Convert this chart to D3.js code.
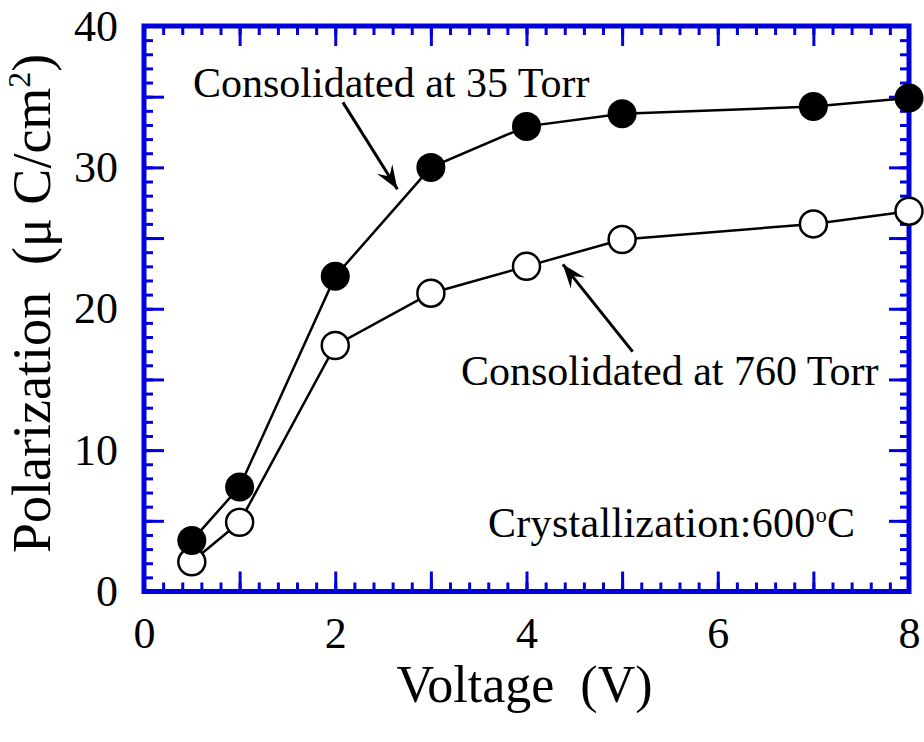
<!DOCTYPE html>
<html>
<head>
<meta charset="utf-8">
<script src="https://cdn.jsdelivr.net/npm/d3@7"></script>
<style>
	body { margin: 0; background: #fff; }
	text { font-family: "Liberation Serif", "Times New Roman", serif; fill: #000; }
</style>
</head>
<body>
<div id="chart"></div>
<script>
// data
var voltage = [0.5, 1, 2, 3, 4, 5, 7, 8];
var torr35 = [3.6, 7.4, 22.3, 30.0, 32.9, 33.8, 34.3, 34.9];
var torr760 = [2.1, 4.9, 17.4, 21.1, 23.0, 24.9, 26.0, 26.9];
var xLabels = [0, 2, 4, 6, 8];
var yLabels = [0, 10, 20, 30, 40];

var width = 924,
	height = 742;
var margin = {
	top: 26,
	right: 15,
	bottom: 150.5,
	left: 144
};
var blue = "#0000dd";

var svg = d3.select("#chart")
	.append("svg")
	.attr("width", width)
	.attr("height", height);

var x = d3.scaleLinear()
	.domain([0, 8])
	.range([margin.left, width - margin.right]);
var y = d3.scaleLinear()
	.domain([0, 40])
	.range([height - margin.bottom, margin.top]);

var x0 = x.range()[0], x1 = x.range()[1];
var y0 = y.range()[0], y1 = y.range()[1];

var xMajor = d3.range(0, 8.01, 1);
var xMinor = d3.range(0, 8.01, 0.2);
var yMajor = d3.range(0, 40.1, 5);
var yMinor = d3.range(0, 40.1, 1);

function styleAxis(g) {
	g.select(".domain").remove();
	g.selectAll(".tick line").attr("stroke", blue).attr("stroke-width", 3);
	g.selectAll(".tick text").style("font-size", "44px").attr("fill", "#000");
}

var fmtX = function(d) { return xLabels.indexOf(d) >= 0 ? d : ""; };
var fmtY = function(d) { return yLabels.indexOf(d) >= 0 ? d : ""; };

// bottom
svg.append("g").attr("transform", "translate(0," + y0 + ")")
	.call(d3.axisBottom(x).tickValues(xMinor).tickSize(-9).tickFormat(""))
	.call(styleAxis);
svg.append("g").attr("transform", "translate(0," + y0 + ")")
	.call(d3.axisBottom(x).tickValues(xMajor).tickSize(-20).tickPadding(25).tickFormat(fmtX))
	.call(styleAxis);
// top
svg.append("g").attr("transform", "translate(0," + y1 + ")")
	.call(d3.axisTop(x).tickValues(xMinor).tickSize(-9).tickFormat(""))
	.call(styleAxis);
svg.append("g").attr("transform", "translate(0," + y1 + ")")
	.call(d3.axisTop(x).tickValues(xMajor).tickSize(-20).tickFormat(""))
	.call(styleAxis);
// left
svg.append("g").attr("transform", "translate(" + x0 + ",0)")
	.call(d3.axisLeft(y).tickValues(yMinor).tickSize(-9).tickFormat(""))
	.call(styleAxis);
svg.append("g").attr("transform", "translate(" + x0 + ",0)")
	.call(d3.axisLeft(y).tickValues(yMajor).tickSize(-20).tickPadding(26).tickFormat(fmtY))
	.call(styleAxis);
// right
svg.append("g").attr("transform", "translate(" + x1 + ",0)")
	.call(d3.axisRight(y).tickValues(yMinor).tickSize(-9).tickFormat(""))
	.call(styleAxis);
svg.append("g").attr("transform", "translate(" + x1 + ",0)")
	.call(d3.axisRight(y).tickValues(yMajor).tickSize(-20).tickFormat(""))
	.call(styleAxis);

// frame
svg.append("rect")
	.attr("x", x0)
	.attr("y", y1)
	.attr("width", x1 - x0)
	.attr("height", y0 - y1)
	.attr("fill", "none")
	.attr("stroke", blue)
	.attr("stroke-width", 5);

// axis titles
svg.append("text")
	.attr("x", (x0 + x1) / 2 - 2)
	.attr("y", 702)
	.attr("text-anchor", "middle")
	.style("font-size", "52px")
	.attr("xml:space", "preserve")
	.text("Voltage  (V)");

var yt = svg.append("text")
	.attr("transform", "translate(50,553) rotate(-90)")
	.attr("text-anchor", "start")
	.style("font-size", "54px")
	.attr("xml:space", "preserve");
yt.append("tspan").text("Polarization  (\u03bc C/cm");
yt.append("tspan").attr("dy", -20).style("font-size", "32px").text("2");
yt.append("tspan").attr("dy", 20).text(")");

// lines and points
var rows35 = voltage.map(function(v, i) { return [v, torr35[i]]; });
var rows760 = voltage.map(function(v, i) { return [v, torr760[i]]; });

var line = d3.line()
	.x(function(d) { return x(d[0]); })
	.y(function(d) { return y(d[1]); });

[rows35, rows760].forEach(function(rows) {
	svg.append("path")
		.datum(rows)
		.attr("d", line)
		.attr("fill", "none")
		.attr("stroke", "#000")
		.attr("stroke-width", 2.5);
});

svg.append("g")
	.selectAll("circle")
	.data(rows760)
	.enter()
	.append("circle")
	.attr("cx", function(d) { return x(d[0]); })
	.attr("cy", function(d) { return y(d[1]); })
	.attr("r", 13.5)
	.attr("fill", "#fff")
	.attr("stroke", "#000")
	.attr("stroke-width", 2.5);

svg.append("g")
	.selectAll("circle")
	.data(rows35)
	.enter()
	.append("circle")
	.attr("cx", function(d) { return x(d[0]); })
	.attr("cy", function(d) { return y(d[1]); })
	.attr("r", 14.5)
	.attr("fill", "#000");

// annotations
svg.append("defs").append("marker")
	.attr("id", "head")
	.attr("viewBox", "-26 -10 28 20")
	.attr("refX", 0)
	.attr("refY", 0)
	.attr("markerWidth", 28)
	.attr("markerHeight", 20)
	.attr("markerUnits", "userSpaceOnUse")
	.attr("orient", "auto")
	.append("path")
	.attr("d", "M0,0 L-24,-9 L-15,0 L-24,9 Z")
	.attr("fill", "#000");

var arrows = [
	[[2.08, 34.6], [2.65, 28.45]],
	[[5.11, 16.97], [4.38, 23.14]]
];
arrows.forEach(function(a) {
	svg.append("line")
		.attr("x1", x(a[0][0]))
		.attr("y1", y(a[0][1]))
		.attr("x2", x(a[1][0]))
		.attr("y2", y(a[1][1]))
		.attr("stroke", "#000")
		.attr("stroke-width", 3)
		.attr("marker-end", "url(#head)");
});

svg.append("text")
	.attr("x", 193)
	.attr("y", 97)
	.style("font-size", "42px")
	.text("Consolidated at 35 Torr");

svg.append("text")
	.attr("x", 461)
	.attr("y", 385)
	.style("font-size", "42px")
	.text("Consolidated at 760 Torr");

var ct = svg.append("text")
	.attr("x", 488)
	.attr("y", 537)
	.style("font-size", "42px")
	.style("letter-spacing", "0.3px");
ct.append("tspan").text("Crystallization:600");
ct.append("tspan").attr("dy", -15).style("font-size", "22px").text("o");
ct.append("tspan").attr("dy", 15).text("C");
</script>
</body>
</html>
